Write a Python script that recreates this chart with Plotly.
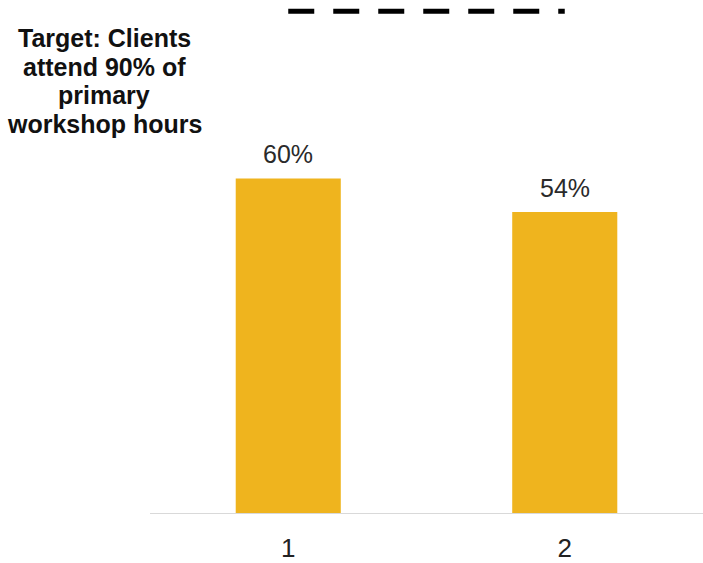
import plotly.graph_objects as go

categories = ["1", "2"]
values = [0.60, 0.54]
target = 0.90
labels = ["60%", "54%"]
title_lines = ["Target: Clients", "attend 90% of", "primary", "workshop hours"]

W, H = 703, 563
ml, mr, mt, mb = 150, 0, 0, 50
ph = H - mt - mb
pw = W - ml - mr

fig = go.Figure()
fig.add_trace(go.Bar(
    x=categories, y=values, marker_color="#EFB41E", marker_line_width=0,
    width=0.38, hoverinfo="skip",
))
fig.add_trace(go.Scatter(
    x=categories, y=[target] * len(categories), mode="lines",
    line=dict(color="black", width=5, dash="26px,19px"), hoverinfo="skip",
))
for i, (v, t) in enumerate(zip(values, labels)):
    fig.add_annotation(x=i, y=v, text=t, showarrow=False, yanchor="bottom",
                       yshift=8, font=dict(size=25, color="#2a2a2a"))

# title lines, baseline spacing ~28.7px
for k, line in enumerate(title_lines):
    baseline = 47 + k * 28.7
    fig.add_annotation(xref="paper", yref="paper", x=(104 - ml) / pw,
                       y=1 - (baseline + 6) / ph, xanchor="center", yanchor="bottom",
                       text="<b>" + line + "</b>", showarrow=False,
                       font=dict(size=25, color="#111111"), borderpad=0)

fig.update_layout(
    width=W, height=H, margin=dict(l=ml, r=mr, t=mt, b=mb),
    plot_bgcolor="white", paper_bgcolor="white", showlegend=False,
    font=dict(family="Liberation Sans, Arial, sans-serif"),
    xaxis=dict(type="category", showline=True, linecolor="#d9d9d9", linewidth=1,
               showgrid=False, ticks="", tickfont=dict(size=26, color="#222222"),
               ticklabelstandoff=12, range=[-0.5, 1.5]),
    yaxis=dict(range=[0, 0.92], visible=False, showgrid=False, zeroline=False),
)
fig.write_html("out.html", config={"displayModeBar": False},
               post_script="document.body.style.margin='0';document.body.style.overflow='hidden';")
